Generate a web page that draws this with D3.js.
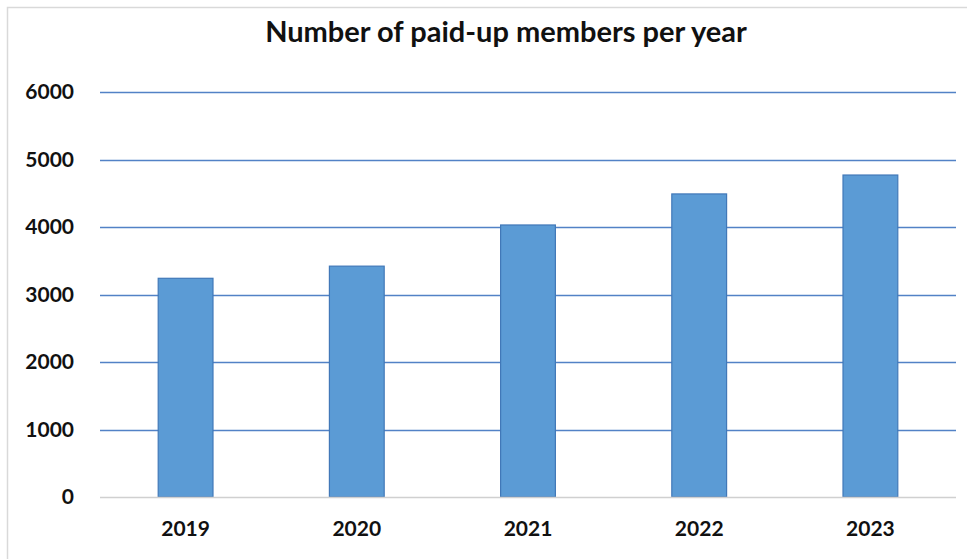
<!DOCTYPE html>
<html>
<head>
<meta charset="utf-8">
<script src="https://cdn.jsdelivr.net/npm/d3@7"></script>
<style>
  html, body { margin: 0; padding: 0; background: #fff; }
  svg { display: block; }
</style>
</head>
<body>
<svg id="chart" width="967" height="559"></svg>
<script>
// Paid-up membership counts by year
const years = ["2019", "2020", "2021", "2022", "2023"];
const members = [3240, 3420, 4030, 4490, 4770];
const yTicks = [0, 1000, 2000, 3000, 4000, 5000, 6000];
const chartTitle = "Number of paid-up members per year";

const W = 967, H = 559;
const margin = { top: 92, right: 11, bottom: 62, left: 100 };
const svg = d3.select("#chart");
const FONT = "Lato, 'Open Sans', sans-serif";

// Chart frame
svg.append("rect")
  .attr("x", 7.5).attr("y", 7.5)
  .attr("width", W + 20).attr("height", H + 20)
  .attr("fill", "#fff")
  .attr("stroke", "#d9d9d9").attr("stroke-width", 1.5);

const x = d3.scaleBand()
  .domain(years)
  .range([margin.left, W - margin.right])
  .paddingInner(0.68)
  .paddingOuter(0.34);

const y = d3.scaleLinear()
  .domain([0, 6000])
  .range([H - margin.bottom, margin.top]);

// Horizontal gridlines
svg.append("g")
  .selectAll("line")
  .data(yTicks.filter(t => t > 0))
  .join("line")
  .attr("x1", margin.left).attr("x2", W - margin.right)
  .attr("y1", d => Math.round(y(d)) + 0.5).attr("y2", d => Math.round(y(d)) + 0.5)
  .attr("stroke", "#5282c6").attr("stroke-width", 1.5);

// Bars
svg.append("g")
  .selectAll("rect")
  .data(years.map((yr, i) => ({ yr, v: members[i] })))
  .join("rect")
  .attr("x", d => x(d.yr))
  .attr("y", d => y(d.v))
  .attr("width", x.bandwidth())
  .attr("height", d => y(0) - y(d.v))
  .attr("fill", "#5b9bd5")
  .attr("stroke", "#4178b8").attr("stroke-width", 1.2);

// Baseline
svg.append("line")
  .attr("x1", margin.left).attr("x2", W - margin.right)
  .attr("y1", y(0) + 0.5).attr("y2", y(0) + 0.5)
  .attr("stroke", "#d0d0d0").attr("stroke-width", 1.5);

// Y axis labels
const yAxis = d3.axisLeft(y).tickValues(yTicks).tickSize(0).tickPadding(26).tickFormat(d3.format("d"));
const gy = svg.append("g").attr("transform", `translate(${margin.left},0)`).call(yAxis);
gy.select(".domain").remove();
gy.selectAll("text")
  .attr("font-family", FONT).attr("font-size", 21).attr("font-weight", 700)
  .attr("fill", "#111");

// X axis labels
const xAxis = d3.axisBottom(x).tickSize(0).tickPadding(24);
const gx = svg.append("g").attr("transform", `translate(0,${y(0)})`).call(xAxis);
gx.select(".domain").remove();
gx.selectAll("text")
  .attr("font-family", FONT).attr("font-size", 21).attr("font-weight", 700)
  .attr("fill", "#111");

// Title
svg.append("text")
  .attr("x", 506).attr("y", 42)
  .attr("text-anchor", "middle")
  .attr("font-family", FONT).attr("font-size", 29).attr("font-weight", 700)
  .attr("fill", "#111")
  .text(chartTitle);
</script>
</body>
</html>
